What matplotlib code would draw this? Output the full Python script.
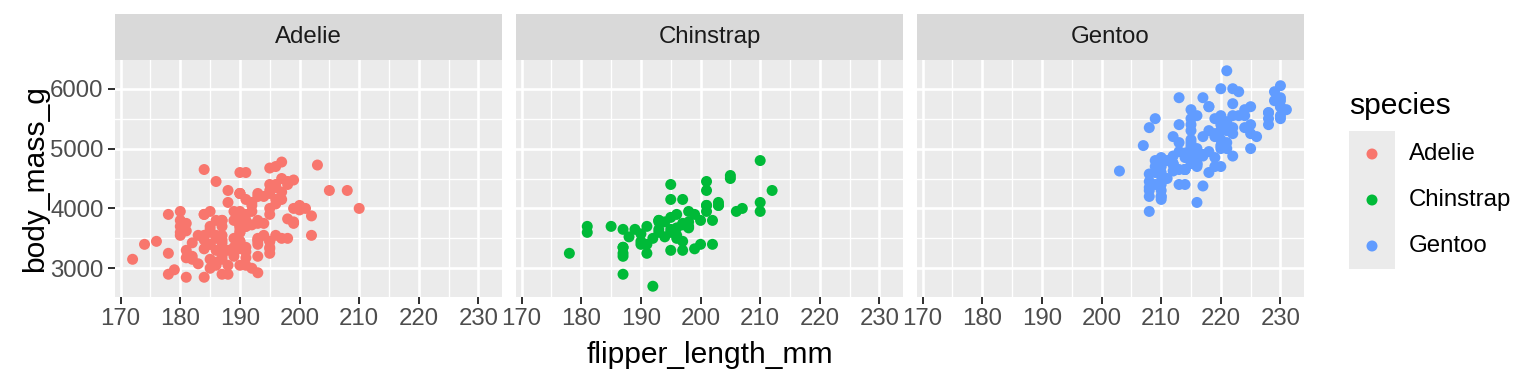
import matplotlib.pyplot as plt
from matplotlib.ticker import MultipleLocator

# Palmer penguins: flipper length (mm) and body mass (g) per species
species = ['Adelie', 'Chinstrap', 'Gentoo']
colors = ['#F8766D', '#00BA38', '#619CFF']

adelie_flipper = [181, 186, 195, 193, 190, 181, 195, 193, 190, 186, 180, 182, 191, 198, 185, 195, 197,
                  184, 194, 174, 180, 189, 185, 180, 187, 183, 187, 172, 180, 178, 178, 188, 184, 195,
                  196, 190, 180, 181, 184, 182, 195, 186, 196, 185, 190, 182, 179, 190, 191, 186, 188,
                  190, 200, 187, 191, 186, 193, 181, 194, 185, 195, 185, 192, 184, 192, 195, 188, 190,
                  198, 190, 190, 196, 197, 190, 195, 191, 184, 187, 195, 189, 196, 187, 193, 191, 194,
                  190, 189, 189, 190, 202, 205, 185, 186, 187, 208, 190, 196, 178, 192, 192, 203, 183,
                  190, 193, 184, 199, 190, 181, 197, 198, 191, 193, 197, 191, 196, 188, 199, 189, 189,
                  187, 198, 176, 202, 186, 199, 191, 195, 191, 210, 190, 197, 193, 199, 187, 190, 191,
                  200, 185, 193, 193, 187, 188, 190, 192, 185, 190, 184, 195, 193, 187, 201]
adelie_mass = [3750, 3800, 3250, 3450, 3650, 3625, 4675, 3475, 4250, 3300, 3700, 3200, 3800, 4400, 3700,
               3450, 4500, 3325, 4200, 3400, 3600, 3800, 3950, 3800, 3800, 3550, 3200, 3150, 3950, 3250,
               3900, 3300, 3900, 3325, 4150, 3950, 3550, 3300, 4650, 3150, 3900, 3100, 4400, 3000, 4600,
               3425, 2975, 3450, 4150, 3500, 4300, 3450, 4050, 2900, 3700, 3550, 3800, 2850, 3750, 3150,
               4400, 3600, 4050, 2850, 3950, 3350, 4100, 3050, 4450, 3600, 3900, 3550, 4150, 3700, 4250,
               3700, 3900, 3550, 4000, 3200, 4700, 3800, 4200, 3350, 3550, 3800, 3500, 3950, 3600, 3550,
               4300, 3400, 4450, 3300, 4300, 3700, 4350, 2900, 4100, 3725, 4725, 3075, 4250, 2925, 3550,
               3750, 3900, 3175, 4775, 3825, 4600, 3200, 4275, 3900, 4075, 2900, 3775, 3350, 3325, 3150,
               3500, 3450, 3875, 3050, 4000, 3275, 4300, 3050, 4000, 3325, 3500, 3500, 4475, 3425, 3900,
               3175, 3975, 3400, 4250, 3400, 3475, 3050, 3725, 3000, 3650, 4250, 3475, 3450, 3750, 3700,
               4000]

chinstrap_flipper = [192, 196, 193, 188, 197, 198, 178, 197, 195, 198, 193, 194, 185, 201, 190, 201, 197,
                     181, 190, 195, 181, 191, 187, 193, 195, 197, 200, 200, 191, 205, 187, 201, 187, 203,
                     195, 199, 195, 210, 192, 205, 210, 187, 196, 196, 196, 201, 190, 212, 187, 198, 199,
                     201, 193, 203, 187, 197, 191, 203, 202, 194, 206, 189, 195, 207, 202, 193, 210, 198]
chinstrap_mass = [3500, 3900, 3650, 3525, 3725, 3950, 3250, 3750, 4150, 3700, 3800, 3775, 3700, 4050,
                  3575, 4050, 3300, 3700, 3450, 4400, 3600, 3400, 2900, 3800, 3300, 4150, 3400, 3800,
                  3700, 4550, 3200, 4300, 3350, 4100, 3600, 3900, 3850, 4800, 2700, 4500, 3950, 3650,
                  3550, 3500, 3675, 4450, 3400, 4300, 3250, 3675, 3325, 3950, 3600, 4050, 3350, 3450,
                  3250, 4050, 3800, 3525, 3950, 3650, 3650, 4000, 3400, 3775, 4100, 3775]

gentoo_flipper = [211, 230, 210, 218, 215, 210, 211, 219, 209, 215, 214, 216, 214, 213, 210, 217, 210,
                  221, 209, 222, 218, 215, 213, 215, 215, 215, 216, 215, 210, 220, 222, 209, 207, 230,
                  220, 220, 213, 219, 208, 208, 208, 225, 210, 216, 222, 217, 210, 225, 213, 215, 210,
                  220, 210, 225, 217, 220, 208, 220, 208, 224, 208, 221, 214, 231, 219, 230, 214, 229,
                  220, 223, 216, 221, 221, 217, 216, 230, 209, 220, 215, 223, 212, 221, 212, 224, 212,
                  228, 218, 218, 212, 230, 218, 228, 212, 224, 214, 226, 216, 222, 203, 225, 219, 228,
                  215, 228, 216, 215, 210, 219, 208, 209, 216, 229, 213, 230, 217, 230, 217, 222, 214,
                  215, 222, 212, 213]
gentoo_mass = [4500, 5700, 4450, 5700, 5400, 4550, 4800, 5200, 4400, 5150, 4650, 5550, 4650, 5850, 4200,
               5850, 4150, 6300, 4800, 5350, 5700, 5000, 4400, 5050, 5000, 5100, 4100, 5650, 4600, 5550,
               5250, 4700, 5050, 6050, 5150, 5400, 4950, 5250, 4350, 5350, 3950, 5700, 4300, 4750, 5550,
               4900, 4200, 5400, 5100, 5300, 4850, 5300, 4400, 5000, 4900, 5050, 4300, 5000, 4450, 5550,
               4200, 5300, 4400, 5650, 4700, 5700, 4650, 5800, 4700, 5550, 4750, 5000, 5100, 5200, 4700,
               5800, 4600, 6000, 4750, 5950, 4625, 5450, 4725, 5350, 4750, 5600, 4600, 5300, 4875, 5550,
               4950, 5400, 4750, 5650, 4850, 5200, 4925, 4875, 4625, 5250, 4850, 5600, 4975, 5500, 4725,
               5500, 4700, 5500, 4575, 5500, 5000, 5950, 4650, 5500, 4375, 5850, 4875, 6000, 4925, 4850,
               5750, 5200, 5400]

flippers = [adelie_flipper, chinstrap_flipper, gentoo_flipper]
masses = [adelie_mass, chinstrap_mass, gentoo_mass]

plt.rcParams['font.family'] = ['Liberation Sans', 'DejaVu Sans']

W, H = 1536, 384
fig = plt.figure(figsize=(16, 4), dpi=96)

# common scales (ggplot style 5% expansion)
all_x = adelie_flipper + chinstrap_flipper + gentoo_flipper
all_y = adelie_mass + chinstrap_mass + gentoo_mass
xr = max(all_x) - min(all_x)
yr = max(all_y) - min(all_y)
xlim = (min(all_x) - 0.05 * xr, max(all_x) + 0.05 * xr)
ylim = (min(all_y) - 0.05 * yr, max(all_y) + 0.05 * yr)

panel_left = [115, 516, 917]
panel_w = 387
panel_top, panel_bottom = 60, 297
strip_top = 14
pt_size = 68

for i, sp in enumerate(species):
    ax = fig.add_axes([panel_left[i] / W, 1 - panel_bottom / H, panel_w / W, (panel_bottom - panel_top) / H])
    ax.set_facecolor('#EBEBEB')
    ax.set_xlim(xlim)
    ax.set_ylim(ylim)
    ax.xaxis.set_major_locator(MultipleLocator(10))
    ax.xaxis.set_minor_locator(MultipleLocator(5))
    ax.yaxis.set_major_locator(MultipleLocator(1000))
    ax.yaxis.set_minor_locator(MultipleLocator(500))
    ax.grid(which='major', color='white', linewidth=2.0)
    ax.grid(which='minor', color='white', linewidth=1.0)
    ax.set_axisbelow(True)
    for s in ax.spines.values():
        s.set_visible(False)
    ax.tick_params(which='major', length=5.5, width=1.5, color='#333333', labelsize=18,
                   labelcolor='#4D4D4D', pad=3)
    ax.tick_params(which='minor', length=0)
    if i > 0:
        ax.tick_params(axis='y', which='both', left=False, labelleft=False)
    ax.scatter(flippers[i], masses[i], s=pt_size, color=colors[i], edgecolors='none', zorder=3)

    # facet strip
    sax = fig.add_axes([panel_left[i] / W, 1 - panel_top / H, panel_w / W, (panel_top - strip_top) / H])
    sax.set_facecolor('#D9D9D9')
    sax.set_xticks([])
    sax.set_yticks([])
    for s in sax.spines.values():
        s.set_visible(False)
    sax.text(0.5, 0.5, sp, ha='center', va='center', fontsize=18, color='#1A1A1A',
             transform=sax.transAxes)

# axis titles
fig.text((115 + 1304) / 2 / W, 1 - 355 / H, 'flipper_length_mm', ha='center', va='center', fontsize=22.5)
fig.text(35 / W, 1 - (panel_top + panel_bottom) / 2 / H, 'body_mass_g', ha='center', va='center',
         rotation=90, fontsize=22.5)

# legend drawn by hand to get the grey key boxes
lax = fig.add_axes([1349 / W, 1 - 269 / H, 46 / W, 138 / H])
lax.set_facecolor('#EBEBEB')
lax.set_xlim(-1, 1)
lax.set_ylim(len(species) - 0.5, -0.5)
lax.set_xticks([])
lax.set_yticks([])
for s in lax.spines.values():
    s.set_visible(False)
for i, sp in enumerate(species):
    lax.scatter([0], [i], s=pt_size, color=colors[i], edgecolors='none')
    lax.text(1.6, i, sp, ha='left', va='center', fontsize=18, color='black', clip_on=False)
lax.text(-1, -0.5 - 0.37, 'species', ha='left', va='baseline', fontsize=22.5, color='black', clip_on=False)

plt.savefig('out.png', dpi=96)
